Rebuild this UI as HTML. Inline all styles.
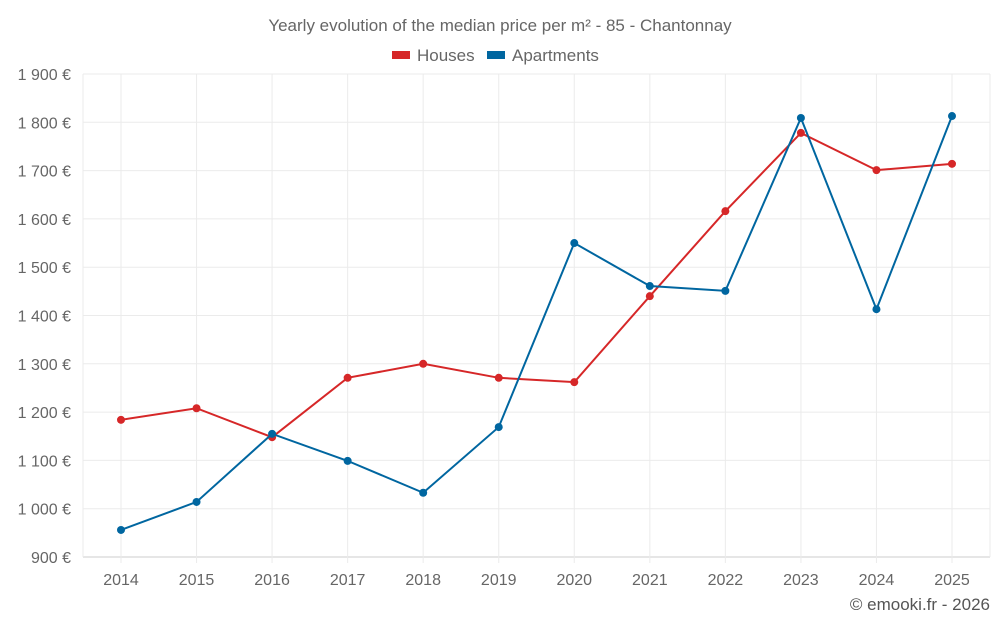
<!DOCTYPE html>
<html><head><meta charset="utf-8"><style>
body{margin:0;background:#fff;font-family:"Liberation Sans",sans-serif}
svg text{font-family:"Liberation Sans",sans-serif}
</style></head><body>
<svg id="chart" width="1000" height="625" xmlns="http://www.w3.org/2000/svg">
<text x="500" y="31" text-anchor="middle" font-size="17" fill="#666">Yearly evolution of the median price per m² - 85 - Chantonnay</text>
<g>
<rect x="392" y="51" width="18" height="8" fill="#d62728"/>
<text x="417" y="61" font-size="17" fill="#666">Houses</text>
<rect x="487" y="51" width="18" height="8" fill="#0066a0"/>
<text x="512" y="61" font-size="17" fill="#666">Apartments</text>
</g>
<g id="grid"></g><g id="axes"></g><g id="series"></g>
<text x="990" y="610" text-anchor="end" font-size="17" fill="#555">© emooki.fr - 2026</text>
</svg>
<script>
const years=[2014,2015,2016,2017,2018,2019,2020,2021,2022,2023,2024,2025];
const houses=[1184,1208,1148,1271,1300,1271,1262,1440,1616,1778,1701,1714];
const apartments=[956,1014,1155,1099,1033,1169,1550,1461,1451,1809,1413,1813];
const yTicks=[900,1000,1100,1200,1300,1400,1500,1600,1700,1800,1900];
const NS="http://www.w3.org/2000/svg";
const L=83,R=990,T=74,B=557;
const x0=121,x1=952;
function xs(i){return x0+(x1-x0)*i/(years.length-1);}
function ys(v){return B-(v-900)/(1900-900)*(B-T);}
function mk(tag,attrs,parent){const e=document.createElementNS(NS,tag);for(const k in attrs)e.setAttribute(k,attrs[k]);parent.appendChild(e);return e;}
const grid=document.getElementById('grid'),axes=document.getElementById('axes'),ser=document.getElementById('series');
yTicks.forEach(v=>{
 const y=ys(v);
 const l=mk('line',{x1:L,x2:R,y1:y,y2:y,stroke:v===900?'#ccc':'#ebebeb'},grid);
 
 
 const t=mk('text',{x:71,y:y+6,'text-anchor':'end','font-size':'16',fill:'#666'},axes);
 t.textContent=(v>=1000?Math.floor(v/1000)+' '+String(v%1000).padStart(3,'0'):v)+' €';
 
 
});
const vx=[L].concat(years.map((_,i)=>xs(i))).concat([R]);
vx.forEach(x=>{
 const l=mk('line',{x1:x,x2:x,y1:T,y2:B+(x===L||x===R?0:6),stroke:'#ebebeb'},grid);
 
 
});
years.forEach((yr,i)=>{
 const t=mk('text',{x:xs(i),y:585,'text-anchor':'middle','font-size':'16',fill:'#666'},axes);
 t.textContent=yr;
 
 
});
function draw(data,color,name){
 const p=mk('polyline',{points:data.map((v,i)=>xs(i)+','+ys(v)).join(' '),fill:'none',stroke:color,'stroke-width':2},ser);
 
 
 data.forEach((v,i)=>{
  const c=mk('circle',{cx:xs(i),cy:ys(v),r:4,fill:color},ser);
  
  
 });
}
draw(houses,'#d62728','houses');
draw(apartments,'#0066a0','apartments');
</script>
</body></html>
